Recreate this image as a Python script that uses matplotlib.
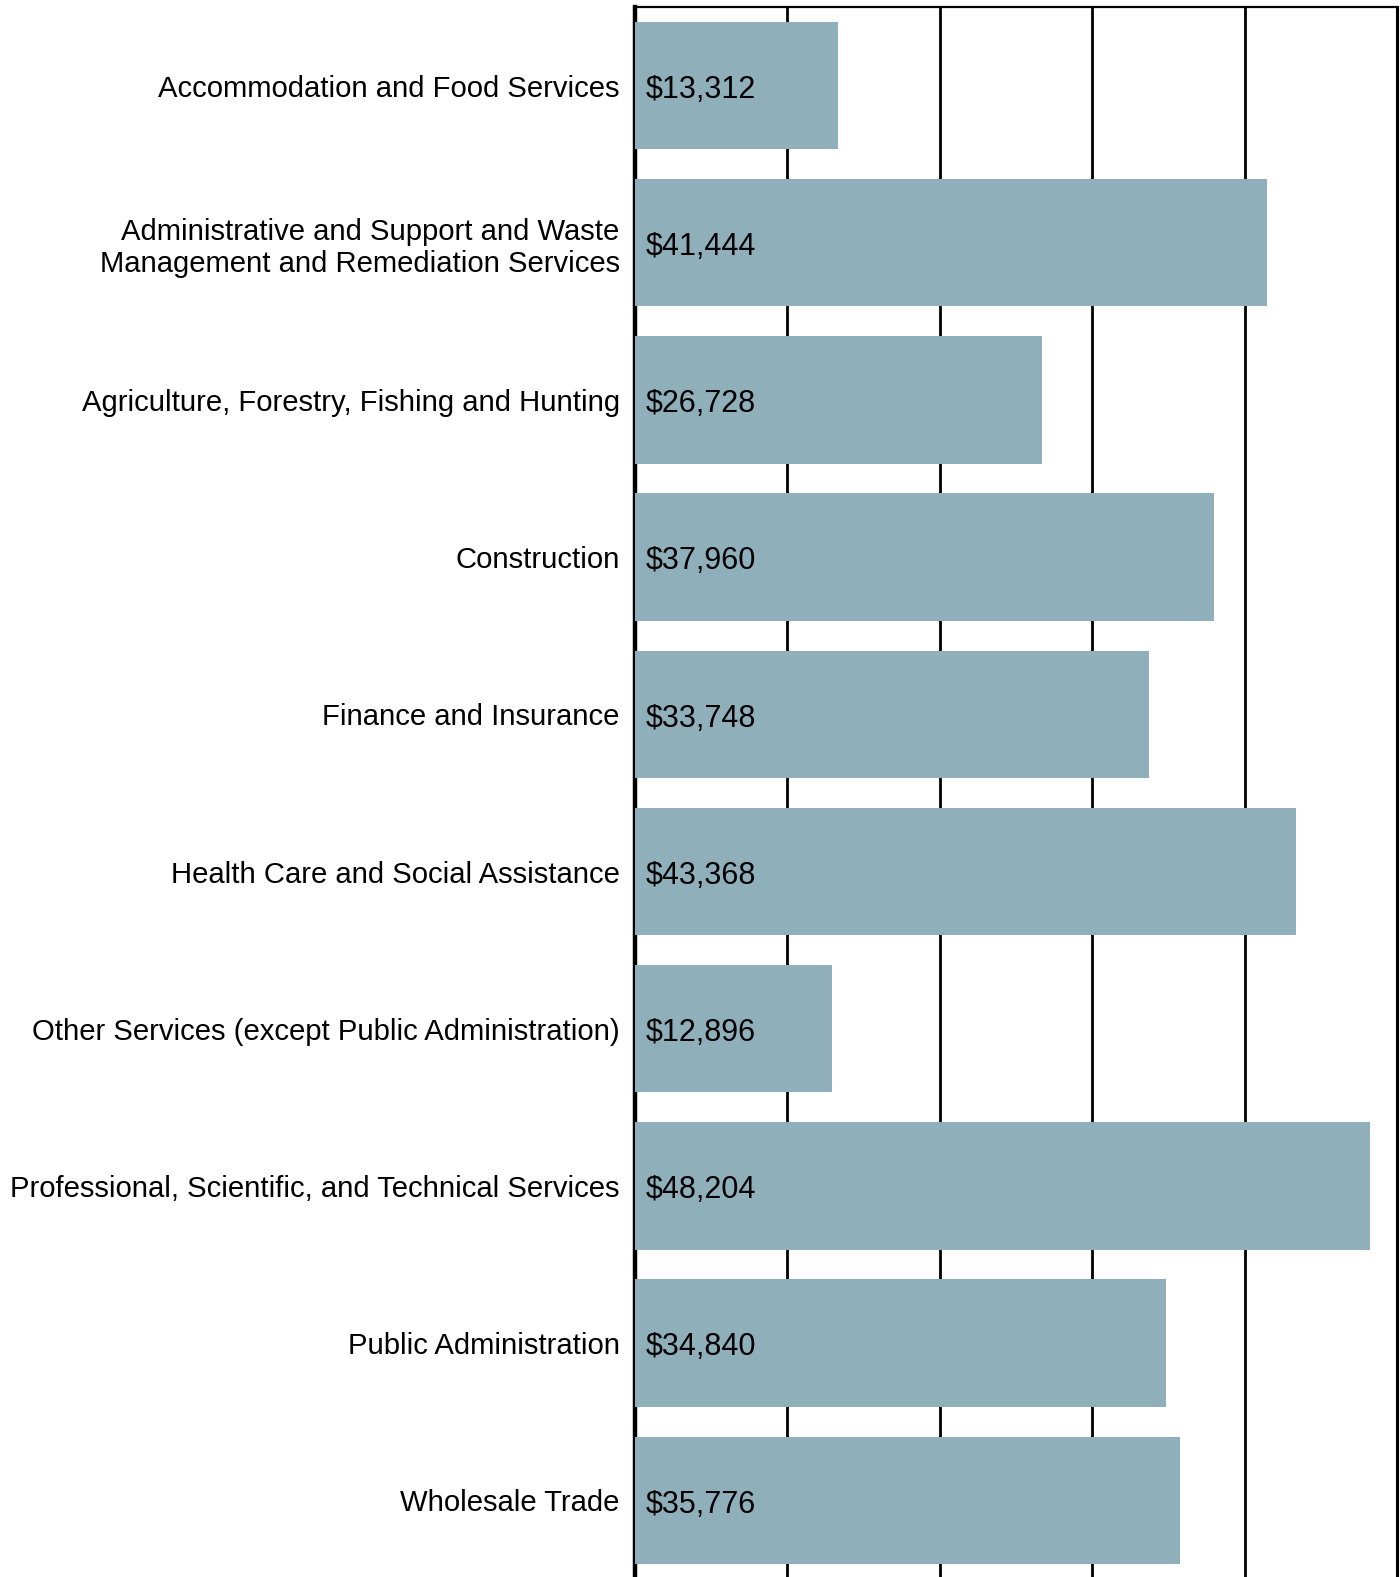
import numpy as np
import matplotlib.pyplot as plt

# industries and median earnings, top to bottom
industries = ['Accommodation and Food Services',
              'Administrative and Support and Waste\nManagement and Remediation Services',
              'Agriculture, Forestry, Fishing and Hunting',
              'Construction',
              'Finance and Insurance',
              'Health Care and Social Assistance',
              'Other Services (except Public Administration)',
              'Professional, Scientific, and Technical Services',
              'Public Administration',
              'Wholesale Trade']
earnings = [13312, 41444, 26728, 37960, 33748, 43368, 12896, 48204, 34840, 35776]
grid_ticks = [10000, 20000, 30000, 40000, 50000]

plt.rcParams['font.family'] = ['Liberation Sans', 'DejaVu Sans']

fig = plt.figure(figsize=(14, 15.77), dpi=100)
ax = fig.add_axes([635/1400, 0, 762/1400, 1 - 7/1577])

y = np.arange(len(industries))
ax.set_axisbelow(True)
for t in grid_ticks[:-1]:
    ax.axvline(t, color='black', lw=2.0, zorder=0)
ax.barh(y, earnings, height=0.81, color='#8FAFBA', zorder=2)

for yi, v in zip(y, earnings):
    ax.text(680, yi + 0.005, '${:,}'.format(v), ha='left', va='center_baseline',
            fontsize=22, zorder=3)

ax.set_xlim(0, 50000)
ax.set_ylim(9.488, -0.5)
ax.set_yticks(y)
ax.set_yticklabels(industries, fontsize=21.1, linespacing=1.2)
ax.tick_params(axis='y', length=0, pad=11)
ax.set_xticks([])

ax.spines['left'].set_linewidth(3.2)
ax.spines['left'].set_zorder(1)
ax.spines['right'].set_linewidth(2.2)
ax.spines['top'].set_linewidth(1.6)
ax.spines['bottom'].set_visible(False)

plt.savefig('out.png', dpi=100)
